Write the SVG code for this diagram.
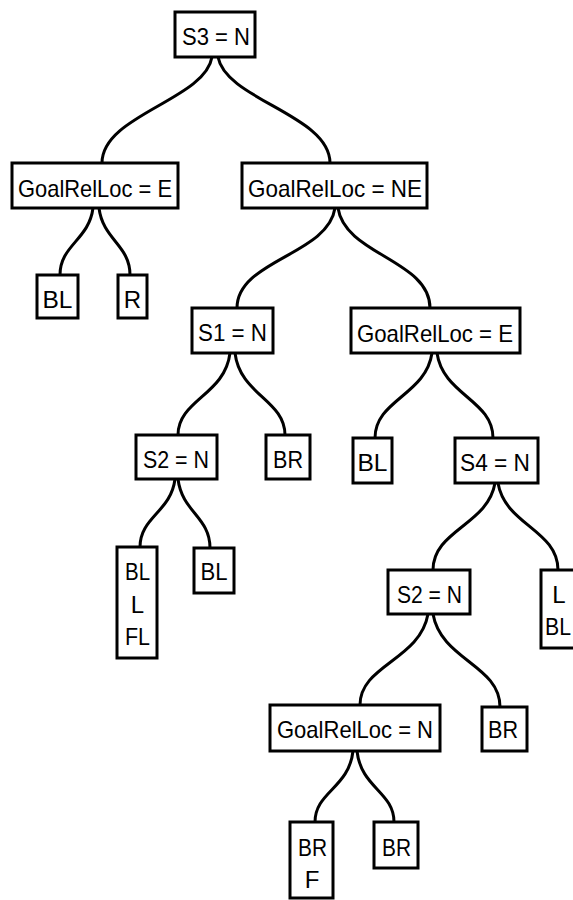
<svg xmlns="http://www.w3.org/2000/svg" width="573" height="900" viewBox="0 0 573 900">
<style>
  .box { fill: #ffffff; stroke: #000000; stroke-width: 3; }
  .edge { fill: none; stroke: #000000; stroke-width: 3; stroke-linecap: round; }
  text { font-family: "Liberation Sans", Arial, sans-serif; font-size: 24px; fill: #000000; text-anchor: middle; }
</style>
<rect x="0" y="0" width="573" height="900" fill="#ffffff"/>
<g id="connectors">
  <path class="edge" d="M212,57 C205,100 102,115 102,163"/>
  <path class="edge" d="M218,57 C226,100 330,115 330,163"/>
  <path class="edge" d="M93,208 C89,240 60,245 60,275"/>
  <path class="edge" d="M99,208 C103,240 130,245 130,275"/>
  <path class="edge" d="M335,208 C328,255 237,260 237,308"/>
  <path class="edge" d="M338,208 C345,255 430,260 430,308"/>
  <path class="edge" d="M230,353 C225,395 178,400 178,435"/>
  <path class="edge" d="M235,353 C240,395 285,400 285,435"/>
  <path class="edge" d="M175,479 C171,512 140,517 140,547"/>
  <path class="edge" d="M178,479 C182,512 210,517 210,548"/>
  <path class="edge" d="M432,353 C426,395 375,400 375,438"/>
  <path class="edge" d="M437,353 C443,395 493,400 493,438"/>
  <path class="edge" d="M495,483 C488,525 433,530 433,570"/>
  <path class="edge" d="M498,483 C505,525 558,530 558,570"/>
  <path class="edge" d="M428,614 C420,660 360,665 360,705"/>
  <path class="edge" d="M433,614 C441,660 500,665 500,707"/>
  <path class="edge" d="M353,751 C349,788 315,792 315,822"/>
  <path class="edge" d="M357,751 C361,788 394,792 394,822"/>
</g>
<g id="n_root">
  <rect class="box" x="175" y="12" width="80" height="45"/>
  <text x="216" y="45" textLength="68" lengthAdjust="spacingAndGlyphs">S3 = N</text>
</g>
<g id="n_grl_e">
  <rect class="box" x="12" y="163" width="166" height="45"/>
  <text x="95" y="197" textLength="154" lengthAdjust="spacingAndGlyphs">GoalRelLoc = E</text>
</g>
<g id="n_grl_ne">
  <rect class="box" x="242" y="163" width="185" height="45"/>
  <text x="335" y="197" textLength="174" lengthAdjust="spacingAndGlyphs">GoalRelLoc = NE</text>
</g>
<g id="n_bl1">
  <rect class="box" x="37" y="275" width="41" height="43"/>
  <text x="57.5" y="308" textLength="30" lengthAdjust="spacingAndGlyphs">BL</text>
</g>
<g id="n_r1">
  <rect class="box" x="118" y="275" width="29" height="43"/>
  <text x="132.5" y="308">R</text>
</g>
<g id="n_s1">
  <rect class="box" x="192" y="308" width="81" height="45"/>
  <text x="232.5" y="341" textLength="69" lengthAdjust="spacingAndGlyphs">S1 = N</text>
</g>
<g id="n_grl_e2">
  <rect class="box" x="351" y="308" width="169" height="45"/>
  <text x="435" y="342" textLength="156" lengthAdjust="spacingAndGlyphs">GoalRelLoc = E</text>
</g>
<g id="n_s2a">
  <rect class="box" x="136" y="435" width="81" height="44"/>
  <text x="176" y="468" textLength="66" lengthAdjust="spacingAndGlyphs">S2 = N</text>
</g>
<g id="n_br1">
  <rect class="box" x="266" y="435" width="44" height="44"/>
  <text x="288" y="468" textLength="30" lengthAdjust="spacingAndGlyphs">BR</text>
</g>
<g id="n_bl2">
  <rect class="box" x="353" y="438" width="39" height="45"/>
  <text x="372.5" y="471" textLength="30" lengthAdjust="spacingAndGlyphs">BL</text>
</g>
<g id="n_s4">
  <rect class="box" x="455" y="438" width="83" height="45"/>
  <text x="495" y="471" textLength="70" lengthAdjust="spacingAndGlyphs">S4 = N</text>
</g>
<g id="n_bl_l_fl">
  <rect class="box" x="117" y="547" width="40" height="111"/>
  <text x="137.5" y="580" textLength="25" lengthAdjust="spacingAndGlyphs">BL</text>
  <text x="137.5" y="613">L</text>
  <text x="137.5" y="645" textLength="25" lengthAdjust="spacingAndGlyphs">FL</text>
</g>
<g id="n_bl3">
  <rect class="box" x="194" y="548" width="40" height="45"/>
  <text x="214" y="580" textLength="27" lengthAdjust="spacingAndGlyphs">BL</text>
</g>
<g id="n_s2b">
  <rect class="box" x="388" y="570" width="82" height="44"/>
  <text x="429.5" y="603" textLength="65" lengthAdjust="spacingAndGlyphs">S2 = N</text>
</g>
<g id="n_l_bl">
  <rect class="box" x="541" y="570" width="40" height="78"/>
  <text x="559" y="603">L</text>
  <text x="558" y="635" textLength="26" lengthAdjust="spacingAndGlyphs">BL</text>
</g>
<g id="n_grl_n">
  <rect class="box" x="270" y="705" width="170" height="46"/>
  <text x="355" y="738" textLength="156" lengthAdjust="spacingAndGlyphs">GoalRelLoc = N</text>
</g>
<g id="n_br2">
  <rect class="box" x="482" y="707" width="45" height="44"/>
  <text x="503" y="738" textLength="30" lengthAdjust="spacingAndGlyphs">BR</text>
</g>
<g id="n_br_f">
  <rect class="box" x="290" y="822" width="43" height="76"/>
  <text x="312.5" y="856" textLength="29" lengthAdjust="spacingAndGlyphs">BR</text>
  <text x="312" y="888">F</text>
</g>
<g id="n_br3">
  <rect class="box" x="374" y="822" width="44" height="46"/>
  <text x="396.5" y="856" textLength="29" lengthAdjust="spacingAndGlyphs">BR</text>
</g>
</svg>
